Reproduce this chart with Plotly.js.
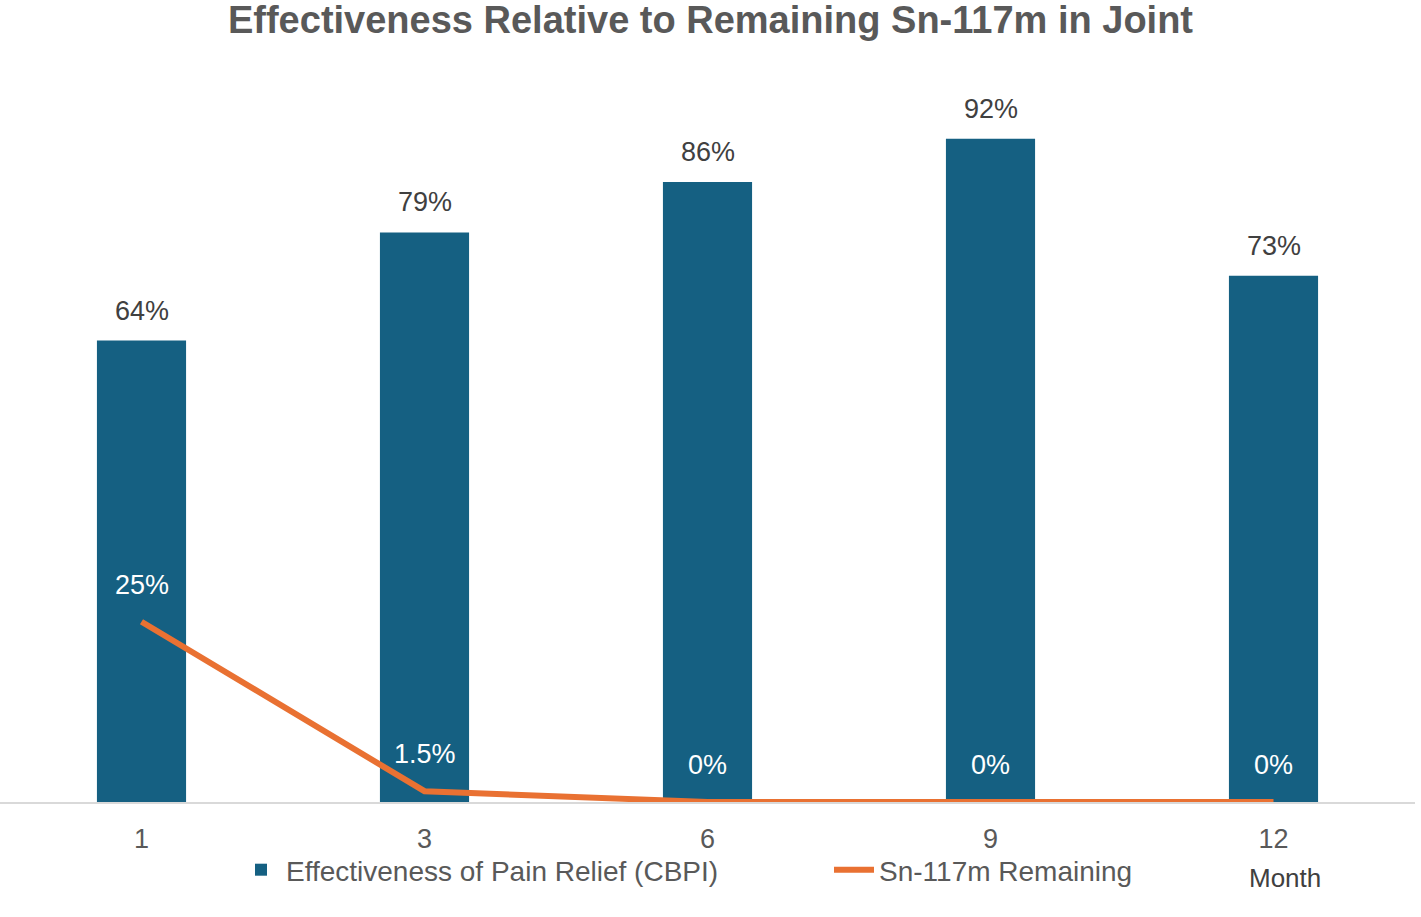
<!DOCTYPE html>
<html>
<head>
<meta charset="utf-8">
<script src="https://cdn.plot.ly/plotly-3.0.1.min.js"></script>
<style>
  html, body { margin: 0; padding: 0; background: #fff; }
  #plot { width: 1421px; height: 917px; }
</style>
</head>
<body>
<div id="plot"></div>
<script>
// Months after treatment
var months = ["1", "3", "6", "9", "12"];

// Pain relief (CBPI), fraction of patients
var painRelief = [0.64, 0.79, 0.86, 0.92, 0.73];
var painReliefLabels = ["64%", "79%", "86%", "92%", "73%"];

// Sn-117m remaining in joint
var snRemaining = [0.25, 0.015, 0, 0, 0];
var snRemainingLabels = ["25%", "1.5%", "0%", "0%", "0%"];

var font = "Liberation Sans, Arial, sans-serif";

var bars = {
  x: months,
  y: painRelief,
  type: "bar",
  name: "Effectiveness of Pain Relief (CBPI)",
  marker: { color: "#156082" },
  width: 0.315,
  hoverinfo: "skip"
};

var line = {
  x: months,
  y: snRemaining,
  type: "scatter",
  mode: "lines",
  name: "Sn-117m Remaining",
  line: { color: "#E97132", width: 6 },
  hoverinfo: "skip"
};

// Value labels above bars (dark) and above line points (white)
// category axis: annotation x is the category index
var annotations = [];
for (var i = 0; i < months.length; i++) {
  annotations.push({
    x: i, y: painRelief[i], xref: "x", yref: "y",
    text: painReliefLabels[i], showarrow: false,
    yanchor: "middle", yshift: 30,
    font: { family: font, size: 27, color: "#404040" }
  });
  annotations.push({
    x: i, y: snRemaining[i], xref: "x", yref: "y",
    text: snRemainingLabels[i], showarrow: false,
    yanchor: "middle", yshift: 37,
    font: { family: font, size: 27, color: "#ffffff" }
  });
}

// Axis title sits at the lower right, under the last tick
annotations.push({
  x: 1, y: 0, xref: "paper", yref: "paper",
  text: "Month", showarrow: false,
  xanchor: "right", yanchor: "middle",
  xshift: -92, yshift: -76,
  font: { family: font, size: 26, color: "#404040" }
});

var layout = {
  width: 1421,
  height: 917,
  margin: { l: 0, r: 6, t: 81, b: 115, autoexpand: false },
  paper_bgcolor: "#ffffff",
  plot_bgcolor: "#ffffff",
  font: { family: font, color: "#595959" },
  title: {
    text: "<b>Effectiveness Relative to Remaining Sn-117m in Joint</b>",
    font: { family: font, size: 38, color: "#595959" },
    x: 0.5, xanchor: "center",
    y: 0.978, yanchor: "middle"
  },
  xaxis: {
    type: "category",
    range: [-0.5, 4.5],
    showline: true,
    linecolor: "#D9D9D9",
    linewidth: 2,
    showgrid: false,
    ticks: "outside",
    ticklen: 12,
    tickcolor: "rgba(0,0,0,0)",
    tickfont: { family: font, size: 27, color: "#595959" },
    automargin: false,
    fixedrange: true
  },
  yaxis: {
    range: [0, 1],
    visible: false,
    showgrid: false,
    zeroline: false,
    fixedrange: true
  },
  showlegend: true,
  legend: {
    orientation: "h",
    x: 236 / 1415, xanchor: "left",
    y: -68 / 721, yanchor: "middle",
    font: { family: font, size: 28, color: "#595959" },
    itemwidth: 40,
    entrywidth: 538,
    entrywidthmode: "pixels",
    bgcolor: "rgba(0,0,0,0)"
  },
  annotations: annotations
};

Plotly.newPlot("plot", [bars, line], layout, { displayModeBar: false, staticPlot: true });
</script>
</body>
</html>
